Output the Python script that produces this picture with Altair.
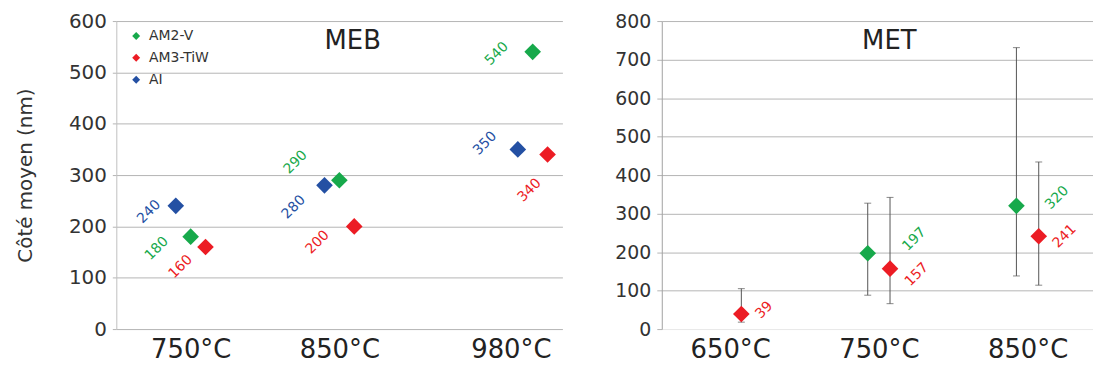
import math
import altair as alt
import pandas as pd

# ---------------- data ----------------
series = ["AM2-V", "AM3-TiW", "AI"]
colors = ["#17a94b", "#ec1c24", "#2450a3"]

meb_temps = [750, 850, 980]
meb_am2v = [180, 290, 540]
meb_am3tiw = [160, 200, 340]
meb_ai = [240, 280, 350]

met_temps = [650, 750, 850]
met_am2v = [None, 197, 320]
met_am2v_low = [None, 88, 138]
met_am2v_high = [None, 327, 731]
met_am3tiw = [39, 157, 241]
met_am3tiw_low = [18, 66, 114]
met_am3tiw_high = [105, 342, 434]

y_title = "Côté moyen (nm)"
panel_titles = ["MEB", "MET"]

# ---------------- styling helpers ----------------
FONT = "DejaVu Sans"
meb_offset = {"AM2-V": 0, "AM3-TiW": 10, "AI": -10}      # degC shift of series within a group
met_offset = {"AM2-V": -7.5, "AM3-TiW": 7.5}

# screen offsets (px) of each value label from its marker
meb_label_off = {
    ("AI", 750): (-27, 6), ("AM2-V", 750): (-34, 12), ("AM3-TiW", 750): (-25, 20),
    ("AI", 850): (-31, 22), ("AM2-V", 850): (-44, -18), ("AM3-TiW", 850): (-37, 16),
    ("AM2-V", 980): (-36, 2), ("AI", 980): (-33, -6), ("AM3-TiW", 980): (-18, 36),
}
met_label_off = {
    ("AM3-TiW", 650): (23, -4), ("AM2-V", 750): (47, -14), ("AM3-TiW", 750): (27, 6),
    ("AM2-V", 850): (41, -8), ("AM3-TiW", 850): (26, 0),
}


def rot(ox, oy):
    # convert screen offset into dx/dy of a text rotated by 315 degrees
    c = math.sqrt(0.5)
    return (ox - oy) * c, (ox + oy) * c


# ---------------- frames ----------------
rows = []
for s, vals in zip(series, [meb_am2v, meb_am3tiw, meb_ai]):
    for t, v in zip(meb_temps, vals):
        rows.append({"series": s, "temp": t, "value": v, "xpos": t + meb_offset[s]})
meb = pd.DataFrame(rows)

rows = []
for s, vals, lo, hi in [("AM2-V", met_am2v, met_am2v_low, met_am2v_high),
                        ("AM3-TiW", met_am3tiw, met_am3tiw_low, met_am3tiw_high)]:
    for t, v, l, h in zip(met_temps, vals, lo, hi):
        if v is None:
            continue
        rows.append({"series": s, "temp": t, "value": v, "low": l, "high": h,
                     "xpos": t + met_offset[s]})
met = pd.DataFrame(rows)

color_scale = alt.Scale(domain=series, range=colors)

# ---------------- left panel (MEB) ----------------
xl_scale = alt.Scale(domain=[700, 1000])
xl_axis = alt.Axis(values=meb_temps, labelExpr="datum.value + '°C'", grid=False,
                   ticks=False, domain=False, labelFontSize=26, labelFont=FONT,
                   labelColor="#222", labelPadding=8,
                   labelOffset={"condition": {"test": "datum.value == 980", "value": -22}, "value": 0})
yl_scale = alt.Scale(domain=[0, 600])
yl_axis = alt.Axis(values=[0, 100, 200, 300, 400, 500, 600], labelFontSize=20, labelFont=FONT,
                   labelColor="#333", gridColor="#b4b4b4", domainColor="#c0c0c0",
                   tickColor="#b4b4b4", tickSize=4, labelPadding=6,
                   titleFontSize=20, titleFont=FONT, titleFontWeight="normal",
                   titleColor="#333", titlePadding=33)


def xl(f="xpos:Q"):
    return alt.X(f, scale=xl_scale, axis=xl_axis, title=None)


def yl(f="value:Q"):
    return alt.Y(f, scale=yl_scale, axis=yl_axis, title=y_title)


meb_points = alt.Chart(meb).mark_point(shape="diamond", filled=True, size=280, opacity=1).encode(
    x=xl(), y=yl(),
    color=alt.Color("series:N", scale=color_scale, sort=series,
                    legend=alt.Legend(title=None, orient="none", legendX=13, legendY=8,
                                      symbolType="diamond", symbolSize=64, labelFontSize=14,
                                      labelFont=FONT, labelColor="#333", labelOffset=6,
                                      rowPadding=8, padding=0, symbolStrokeWidth=0)),
)

meb_layers = [meb_points]
for (s, t), (ox, oy) in meb_label_off.items():
    dx, dy = rot(ox, oy)
    meb_layers.append(
        alt.Chart(meb).transform_filter(
            (alt.datum.series == s) & (alt.datum.temp == t)
        ).mark_text(angle=315, dx=dx, dy=dy, fontSize=14, font=FONT, align="center",
                    baseline="middle").encode(
            x=xl(), y=yl(), text="value:Q",
            color=alt.Color("series:N", scale=color_scale, legend=None))
    )
meb_layers.append(
    alt.Chart(pd.DataFrame({"t": [panel_titles[0]]})).mark_text(
        fontSize=26, font=FONT, color="#222", align="center", baseline="middle").encode(
        x=alt.X(datum=859, scale=xl_scale, axis=xl_axis, title=None),
        y=alt.Y(datum=561, scale=yl_scale, axis=yl_axis, title=y_title),
        text="t:N")
)

left = alt.layer(*meb_layers).properties(width=449, height=310)

# ---------------- right panel (MET) ----------------
xr_scale = alt.Scale(domain=[604, 894])
xr_axis = alt.Axis(values=met_temps, labelExpr="datum.value + '°C'", grid=False,
                   ticks=False, domain=False, labelFontSize=26, labelFont=FONT,
                   labelColor="#222", labelPadding=8)
yr_axis = alt.Axis(values=[0, 100, 200, 300, 400, 500, 600, 700, 800], labelFontSize=19,
                   labelFont=FONT, labelColor="#333",
                   gridColor={"condition": {"test": "datum.value === 0", "value": "#e8e8e8"},
                              "value": "#b4b4b4"},
                   domainColor="#a0a0a0", tickColor="#b4b4b4", tickSize=5, labelPadding=6)
yr_scale = alt.Scale(domain=[0, 800])


def xr(f="xpos:Q"):
    return alt.X(f, scale=xr_scale, axis=xr_axis, title=None)


def yr(f="value:Q"):
    return alt.Y(f, scale=yr_scale, axis=yr_axis, title=None)


met_base = alt.Chart(met)
met_bars = met_base.mark_rule(color="#555", strokeWidth=1).encode(
    x=xr(), y=yr("low:Q"), y2="high:Q")
met_caps = met_base.transform_fold(["low", "high"], as_=["end", "yv"]).mark_tick(
    orient="horizontal", color="#555", thickness=1, size=7).encode(
    x=xr(), y=yr("yv:Q"))
met_points = met_base.mark_point(shape="diamond", filled=True, size=280, opacity=1).encode(
    x=xr(), y=yr(),
    color=alt.Color("series:N", scale=color_scale, legend=None))

met_layers = [met_bars, met_caps, met_points]
for (s, t), (ox, oy) in met_label_off.items():
    dx, dy = rot(ox, oy)
    met_layers.append(
        alt.Chart(met).transform_filter(
            (alt.datum.series == s) & (alt.datum.temp == t)
        ).mark_text(angle=315, dx=dx, dy=dy, fontSize=14, font=FONT, align="center",
                    baseline="middle").encode(
            x=xr(), y=yr(), text="value:Q",
            color=alt.Color("series:N", scale=color_scale, legend=None))
    )
met_layers.append(
    alt.Chart(pd.DataFrame({"t": [panel_titles[1]]})).mark_text(
        fontSize=26, font=FONT, color="#222", align="center", baseline="middle").encode(
        x=alt.X(datum=757, scale=xr_scale, axis=xr_axis, title=None),
        y=alt.Y(datum=748, scale=yr_scale, axis=yr_axis, title=None),
        text="t:N")
)

right = alt.layer(*met_layers).properties(width=434, height=310)

chart = alt.hconcat(left, right, spacing=52).resolve_scale(color="independent").configure_view(
    stroke=None
).properties(padding={"left": 7, "top": 2, "right": 0, "bottom": 0})

chart.save("out.html", embed_options={"renderer": "svg", "actions": False})
